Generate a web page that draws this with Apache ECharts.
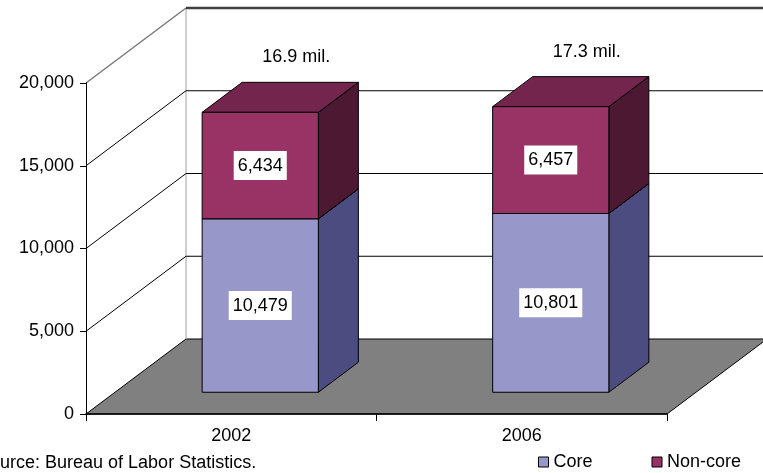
<!DOCTYPE html>
<html><head><meta charset="utf-8">
<script src="https://cdn.jsdelivr.net/npm/echarts@6/dist/echarts.min.js"></script>
<style>html,body{margin:0;padding:0;background:#fff;overflow:hidden}#c{width:763px;height:473px}</style>
</head><body><div id="c"></div>
<script>
// ---- data ----
const categories = ['2002', '2006'];
const coreValues = [10479, 10801];
const nonCoreValues = [6434, 6457];
const seriesNames = ['Core', 'Non-core'];
const yTicks = [0, 5000, 10000, 15000, 20000];
const sourceText = 'Source: Bureau of Labor Statistics.';

// ---- styling / 3D geometry ----
const FONT = '"Liberation Sans", Arial, sans-serif';
const FS = 18;
const DX = 100, DY = -75;          // depth of the 3D box
const FRONT_GAP = 0.29;            // fraction of depth before bar front
const BAR_DEPTH = 0.40;            // fraction of depth used by bar
const BAR_W = 0.40;                // fraction of category band
const COLORS = {
  core: {front: '#9797C9', side: '#4C4C80', top: '#7171A3'},
  non: {front: '#993366', side: '#4D1832', top: '#74254D'}
};

function fmt(v) { return String(v).replace(/\B(?=(\d{3})+(?!\d))/g, ','); }
const totals = coreValues.map((v, i) => v + nonCoreValues[i]);

function renderWalls(params, api) {
  const cs = params.coordSys;
  const x0 = cs.x, x1 = cs.x + cs.width;
  const yb = api.coord([0, 0])[1];
  const yTop = api.coord([0, yTicks[yTicks.length - 1]])[1];
  const ch = [];
  ch.push({type: 'polygon', shape: {points: [[x0, yb], [x1, yb], [x1 + DX, yb + DY], [x0 + DX, yb + DY]]},
    style: {fill: '#808080', stroke: '#000', lineWidth: 1}});
  ch.push({type: 'line', shape: {x1: x0 + DX, y1: yTop + DY, x2: x0 + DX, y2: yb + DY},
    style: {stroke: '#a0a0a0', lineWidth: 1}});
  yTicks.forEach((v, i) => {
    if (v === 0) return;
    const y = api.coord([0, v])[1];
    const isTop = i === yTicks.length - 1;
    ch.push({type: 'line', shape: {x1: x0, y1: y, x2: x0 + DX, y2: y + DY},
      style: {stroke: isTop ? '#7a7a7a' : '#000', lineWidth: isTop ? 1.5 : 1}});
    ch.push({type: 'line', shape: {x1: x0 + DX, y1: y + DY, x2: x1 + DX + 50, y2: y + DY},
      style: {stroke: isTop ? '#404040' : '#000', lineWidth: isTop ? 2.5 : 1}});
  });
  return {type: 'group', children: ch};
}

function makeBarRenderer(col, isTopSeries) {
  return function (params, api) {
    const idx = api.value(0), lo = api.value(1), hi = api.value(2);
    const band = api.size([1, 0])[0];
    const c = api.coord([idx, lo]);
    const t = api.coord([idx, hi]);
    const w = band * BAR_W;
    const fx = c[0] - w / 2 + DX * FRONT_GAP;
    const fy0 = c[1] + DY * FRONT_GAP;
    const fy1 = t[1] + DY * FRONT_GAP;
    const bdx = DX * BAR_DEPTH, bdy = DY * BAR_DEPTH;
    const st = {stroke: '#000', lineWidth: 1, lineJoin: 'round'};
    const ch = [
      {type: 'polygon', shape: {points: [[fx + w, fy1], [fx + w + bdx, fy1 + bdy], [fx + w + bdx, fy0 + bdy], [fx + w, fy0]]},
        style: Object.assign({fill: col.side}, st)},
      {type: 'polygon', shape: {points: [[fx, fy1], [fx + bdx, fy1 + bdy], [fx + w + bdx, fy1 + bdy], [fx + w, fy1]]},
        style: Object.assign({fill: col.top}, st)},
      {type: 'rect', shape: {x: fx, y: fy1, width: w, height: fy0 - fy1},
        style: Object.assign({fill: col.front}, st)},
      {type: 'text', x: fx + w / 2, y: (fy0 + fy1) / 2,
        style: {text: fmt(hi - lo), fill: '#000', font: FS + 'px ' + FONT, align: 'center', verticalAlign: 'middle',
          backgroundColor: '#fff', padding: [6, 4, 5, 4]}}
    ];
    if (isTopSeries) {
      ch.push({type: 'text', x: fx + w / 2 + bdx - 4, y: fy1 + bdy - 25,
        style: {text: (totals[idx] / 1000).toFixed(1) + ' mil.', fill: '#000', font: FS + 'px ' + FONT,
          align: 'center', verticalAlign: 'middle'}});
    }
    return {type: 'group', children: ch};
  };
}

const chart = echarts.init(document.getElementById('c'), null, {renderer: 'canvas'});
chart.setOption({
  animation: false,
  backgroundColor: '#fff',
  textStyle: {fontFamily: FONT},
  grid: {left: 86, right: 96, top: 83, bottom: 59, containLabel: false},
  legend: {
    data: seriesNames, left: 538, top: 453, padding: 0, itemWidth: 10, itemHeight: 10, itemGap: 59, icon: 'rect',
    textStyle: {fontSize: FS, color: '#000', fontFamily: FONT},
    itemStyle: {borderColor: '#000', borderWidth: 1}
  },
  xAxis: {
    type: 'category', data: categories, z: 10,
    axisLine: {lineStyle: {color: '#000', width: 1.5}},
    axisTick: {show: true, length: 7, lineStyle: {color: '#000'}},
    axisLabel: {fontSize: FS, color: '#000', margin: 13, fontFamily: FONT},
    splitLine: {show: false}
  },
  yAxis: {
    type: 'value', min: 0, max: 20000, interval: 5000, z: 10,
    axisLine: {show: true, lineStyle: {color: '#000', width: 1}},
    axisTick: {show: true, length: 6, lineStyle: {color: '#000'}},
    axisLabel: {fontSize: FS, color: '#000', margin: 12, fontFamily: FONT, formatter: v => fmt(v)},
    splitLine: {show: false}
  },
  graphic: [{
    type: 'text', left: -22, top: 454,
    style: {text: sourceText, fill: '#000', font: FS + 'px ' + FONT}
  }],
  series: [
    {type: 'custom', name: 'walls', z: 1, silent: true, renderItem: renderWalls, data: [[0, 0]]},
    {type: 'custom', name: 'Core', z: 2, itemStyle: {color: COLORS.core.front},
      renderItem: makeBarRenderer(COLORS.core, false),
      data: categories.map((c, i) => [i, 0, coreValues[i]])},
    {type: 'custom', name: 'Non-core', z: 3, itemStyle: {color: COLORS.non.front},
      renderItem: makeBarRenderer(COLORS.non, true),
      data: categories.map((c, i) => [i, coreValues[i], coreValues[i] + nonCoreValues[i]])}
  ]
});
</script></body></html>
